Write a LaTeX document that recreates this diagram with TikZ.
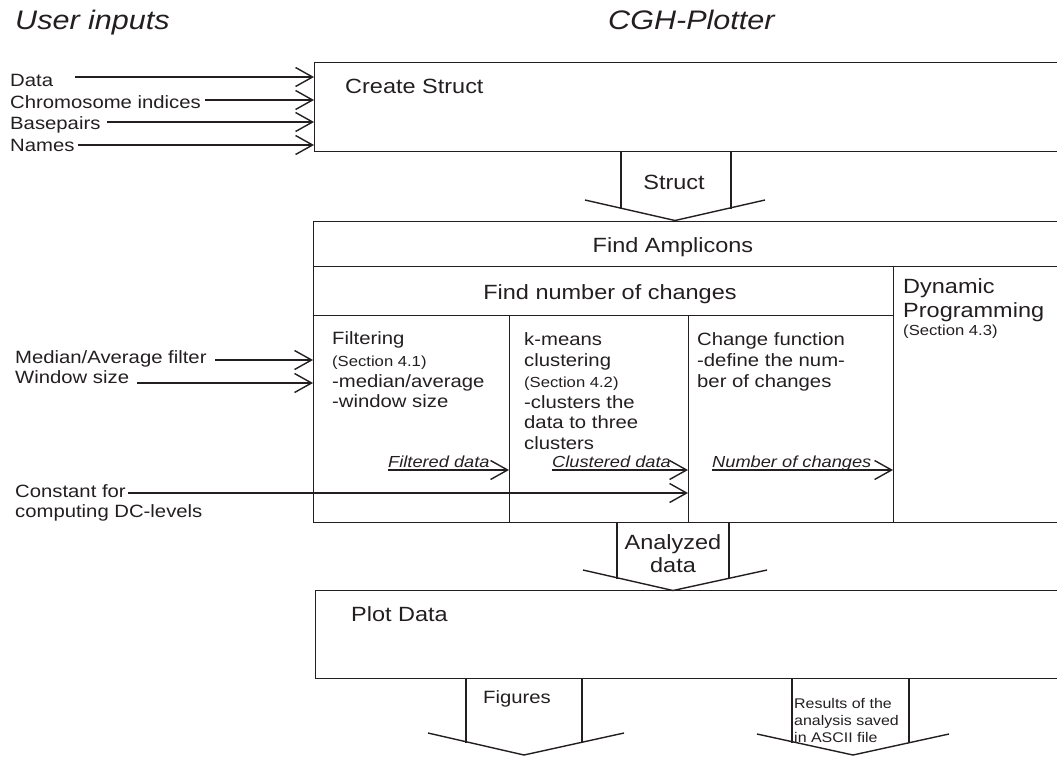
\documentclass[tikz,border=0pt]{standalone}
\usepackage{fontspec}
\setmainfont{Liberation Sans}[FakeStretch=1.14]
\usetikzlibrary{arrows.meta}
\definecolor{ink}{RGB}{35,31,32}
\tikzset{
  ln/.style={line width=1.4pt, draw=ink},
  arr/.style={ln, -{Straight Barb[length=17pt,width=19pt]}},
  box/.style={ln, rectangle, inner sep=0pt, anchor=north west},
  txt/.style={inner sep=0pt, text=ink},
  ttl/.style={txt, anchor=base west, font=\fontsize{26.8}{30}\selectfont\itshape},
  big/.style={txt, font=\fontsize{20.6}{24}\selectfont},
  nrm/.style={txt, anchor=base west, font=\fontsize{17.8}{21}\selectfont},
  sml/.style={txt, anchor=base west, font=\fontsize{14.6}{17}\selectfont},
  tiny/.style={txt, anchor=base west, font=\fontsize{14}{17}\selectfont},
  itl/.style={txt, anchor=base west, font=\fontsize{16}{19}\selectfont\itshape},
}
\begin{document}
\begin{tikzpicture}[x=1pt,y=-1pt]
\useasboundingbox (0,0) rectangle (1057,756);
\clip (0,0) rectangle (1057,756);

% titles
\node[ttl] (tuser) at (15,29) {User inputs};
\node[ttl] (tcgh) at (608,29) {CGH-Plotter};

% Create Struct box
\node[box, minimum width=800pt, minimum height=89pt] (create) at (314,62) {};
\node[big, anchor=base west] (createlab) at (345,93) {Create Struct};

% user inputs to Create Struct
\node[nrm] (ldata) at (10,86) {Data};
\node[nrm] (lchrom) at (10,108) {Chromosome indices};
\node[nrm] (lbase) at (10,129) {Basepairs};
\node[nrm] (lnames) at (10,151) {Names};
\coordinate (sdata) at (75,77);
\coordinate (schrom) at (205,100);
\coordinate (sbase) at (107,122);
\coordinate (snames) at (78,145);
\draw[arr] (sdata) -- (sdata -| create.west);
\draw[arr] (schrom) -- (schrom -| create.west);
\draw[arr] (sbase) -- (sbase -| create.west);
\draw[arr] (snames) -- (snames -| create.west);

% Struct block arrow
\draw[ln] (621,151) -- (621,209);
\draw[ln] (731,151) -- (731,209);
\draw[ln, line join=miter] (585,200) -- (675,220.5) -- (765,200);
\node[big, anchor=base] (structlab) at (674,189) {Struct};

% Find Amplicons structure
\node[box, minimum width=800pt, minimum height=45pt] (amp) at (313,221) {};
\node[box, minimum width=800pt, minimum height=256pt] (ampbody) at (313,266) {};
\node[box, minimum width=580pt, minimum height=49pt] (nchg) at (313,266) {};
\node[box, minimum width=196pt, minimum height=207pt] (filt) at (313,315) {};
\node[box, minimum width=179pt, minimum height=207pt] (kmeans) at (509,315) {};
\node[box, minimum width=205pt, minimum height=207pt] (change) at (688,315) {};
\node[box, minimum width=300pt, minimum height=256pt] (dyn) at (893,266) {};

\node[big, anchor=base] (amplab) at (673,252) {Find Amplicons};
\node[big, anchor=base] (nchglab) at (610,299) {Find number of changes};

\node[big, anchor=base west] (dyn1) at (903,293) {Dynamic};
\node[big, anchor=base west] (dyn2) at (903,317) {Programming};
\node[sml] (dyn3) at (903,335) {(Section 4.3)};

% Filtering column
\node[nrm] (f1) at (332,344) {Filtering};
\node[sml] (f2) at (332,366) {(Section 4.1)};
\node[nrm] (f3) at (332,387) {-median/average};
\node[nrm] (f4) at (332,407) {-window size};

% k-means column
\node[nrm] (k1) at (524,345) {k-means};
\node[nrm] (k2) at (524,366) {clustering};
\node[sml] (k3) at (524,387) {(Section 4.2)};
\node[nrm] (k4) at (524,408) {-clusters the};
\node[nrm] (k5) at (524,428) {data to three};
\node[nrm] (k6) at (524,449) {clusters};

% Change function column
\node[nrm] (c1) at (697,345) {Change function};
\node[nrm] (c2) at (697,366) {-define the num-};
\node[nrm] (c3) at (697,387) {ber of changes};

% filter inputs
\node[nrm] (lmed) at (15,363) {Median/Average filter};
\node[nrm] (lwin) at (15,383) {Window size};
\coordinate (smed) at (215,360);
\coordinate (swin) at (137,383);
\draw[arr] (smed) -- (smed -| filt.west);
\draw[arr] (swin) -- (swin -| filt.west);

% constant input
\node[nrm] (lcon1) at (15,497) {Constant for};
\node[nrm] (lcon2) at (15,517) {computing DC-levels};
\coordinate (scon) at (128,493);
\draw[arr] (scon) -- (scon -| change.west);

% internal data flow
\coordinate (sfd) at (388,470);
\coordinate (scd) at (552,470);
\coordinate (snc) at (712,470);
\node[itl] (lfd) at (388,467) {Filtered data};
\node[itl] (lcd) at (552,467) {Clustered data};
\node[itl] (lnc) at (712,467) {Number of changes};
\draw[arr] (sfd) -- (sfd -| kmeans.west);
\draw[arr] (scd) -- (scd -| change.west);
\draw[arr] (snc) -- (snc -| dyn.west);

% Analyzed data block arrow
\draw[ln] (617,522) -- (617,579);
\draw[ln] (729,522) -- (729,579);
\draw[ln, line join=miter] (583,570) -- (673,590.5) -- (767,570);
\node[big, anchor=base] (an1) at (673,549) {Analyzed};
\node[big, anchor=base] (an2) at (673,572) {data};

% Plot Data box
\node[box, minimum width=800pt, minimum height=88pt] (plot) at (315,590) {};
\node[big, anchor=base west] (plotlab) at (351,621) {Plot Data};

% Figures block arrow
\draw[ln] (466,678) -- (466,743);
\draw[ln] (582,678) -- (582,743);
\draw[ln, line join=miter] (428,733) -- (524,755) -- (624,733);
\node[nrm, anchor=base] (figlab) at (517,703) {Figures};

% Results block arrow
\draw[ln] (792,678) -- (792,743);
\draw[ln] (909,678) -- (909,743);
\draw[ln, line join=miter] (757,734) -- (853,755) -- (949,734);
\node[tiny] (r1) at (794,708) {Results of the};
\node[tiny] (r2) at (794,725) {analysis saved};
\node[tiny] (r3) at (794,742) {in ASCII file};
\end{tikzpicture}
\end{document}
